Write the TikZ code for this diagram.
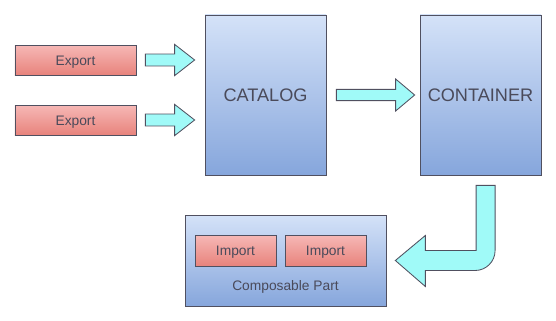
\documentclass[tikz,border=0pt]{standalone}
\usepackage{fontspec}
\setmainfont{Liberation Sans}
\usetikzlibrary{positioning,calc}
\definecolor{mefLine}{HTML}{505060}
\definecolor{mefText}{HTML}{4A4A5A}
\definecolor{mefRedTop}{HTML}{F6B8B6}
\definecolor{mefRedBot}{HTML}{E8837C}
\definecolor{mefBlueTop}{HTML}{D4E2F8}
\definecolor{mefBlueBot}{HTML}{86A6DC}
\definecolor{mefCyan}{HTML}{A0FAF8}

\tikzset{
  partbox/.style={draw=mefLine,line width=0.5pt,top color=mefRedTop,bottom color=mefRedBot,
    text=mefText,font=\fontsize{9.8}{11}\selectfont,inner sep=0pt,
    text height=0.72em,text depth=0pt},
  bigbox/.style={draw=mefLine,line width=0.5pt,top color=mefBlueTop,bottom color=mefBlueBot,
    text=mefText,font=\fontsize{12.9}{15}\selectfont,inner sep=0pt},
  fatarrow/.style={draw=mefLine,line width=0.6pt,fill=mefCyan,line join=miter}
}

\begin{document}
\begin{tikzpicture}
  \useasboundingbox (0,0) rectangle (13.9,-8.025);

  % exports feeding the catalog
  \node[partbox,minimum width=3.025cm,minimum height=0.75cm] (exp1) at (1.8875,-1.5) {Export};
  \node[partbox,minimum width=3.025cm,minimum height=0.75cm] (exp2) at (1.8875,-3.0) {Export};
  \node[bigbox,minimum width=3.025cm,minimum height=4cm] (catalog) at (6.6375,-2.375) {CATALOG};
  \node[bigbox,minimum width=3.025cm,minimum height=4cm] (container) at (12.0125,-2.375) {CONTAINER};

  % composable part with its imports
  \node[bigbox,minimum width=5.025cm,minimum height=2.275cm] (part) at (7.1375,-6.5125) {};
  \node[partbox,minimum width=2.025cm,minimum height=0.775cm] (imp1) at (5.8875,-6.2625) {Import};
  \node[partbox,minimum width=2.025cm,minimum height=0.775cm] (imp2) at (8.1375,-6.2625) {Import};
  \node[text=mefText,font=\fontsize{9.8}{11}\selectfont] (partlbl) at (7.1375,-7.17) {Composable Part};

  % block arrows export -> catalog
  \foreach \e in {exp1,exp2}{
    \draw[fatarrow] let \p1=($(\e.east)+(0.225,0)$), \p2=($(catalog.west |- \e.east)+(-0.25,0)$) in
      (\x1,\y1+0.15cm) -- (\x2-0.5cm,\y1+0.15cm) -- (\x2-0.5cm,\y1+0.39cm) -- (\x2,\y1)
      -- (\x2-0.5cm,\y1-0.39cm) -- (\x2-0.5cm,\y1-0.15cm) -- (\x1,\y1-0.15cm) -- cycle;
  }

  % catalog -> container
  \draw[fatarrow] let \p1=($(catalog.east)+(0.25,0)$), \p2=($(container.west)+(-0.125,0)$) in
    (\x1,\y1+0.14cm) -- (\x2-0.475cm,\y1+0.14cm) -- (\x2-0.475cm,\y1+0.4cm) -- (\x2,\y1)
    -- (\x2-0.475cm,\y1-0.4cm) -- (\x2-0.475cm,\y1-0.14cm) -- (\x1,\y1-0.14cm) -- cycle;

  % container -> composable part, bent arrow
  \coordinate (bendtop) at ($(container.south)+(0.125,-0.25)$);
  \coordinate (bendtip) at ($(part.east)+(0.225,0)$);
  \draw[fatarrow] let \p1=(bendtop), \p2=(bendtip) in
    (\x1-0.235cm,\y1) -- (\x1+0.24cm,\y1) -- (\x1+0.24cm,\y2+0.25cm)
    arc[start angle=0,end angle=-90,radius=0.5cm] -- (\x2+0.75cm,\y2-0.25cm)
    -- (\x2+0.75cm,\y2-0.65cm) -- (\x2,\y2) -- (\x2+0.75cm,\y2+0.625cm)
    -- (\x2+0.75cm,\y2+0.25cm) -- (\x1-0.235cm,\y2+0.25cm) -- cycle;
\end{tikzpicture}
\end{document}
